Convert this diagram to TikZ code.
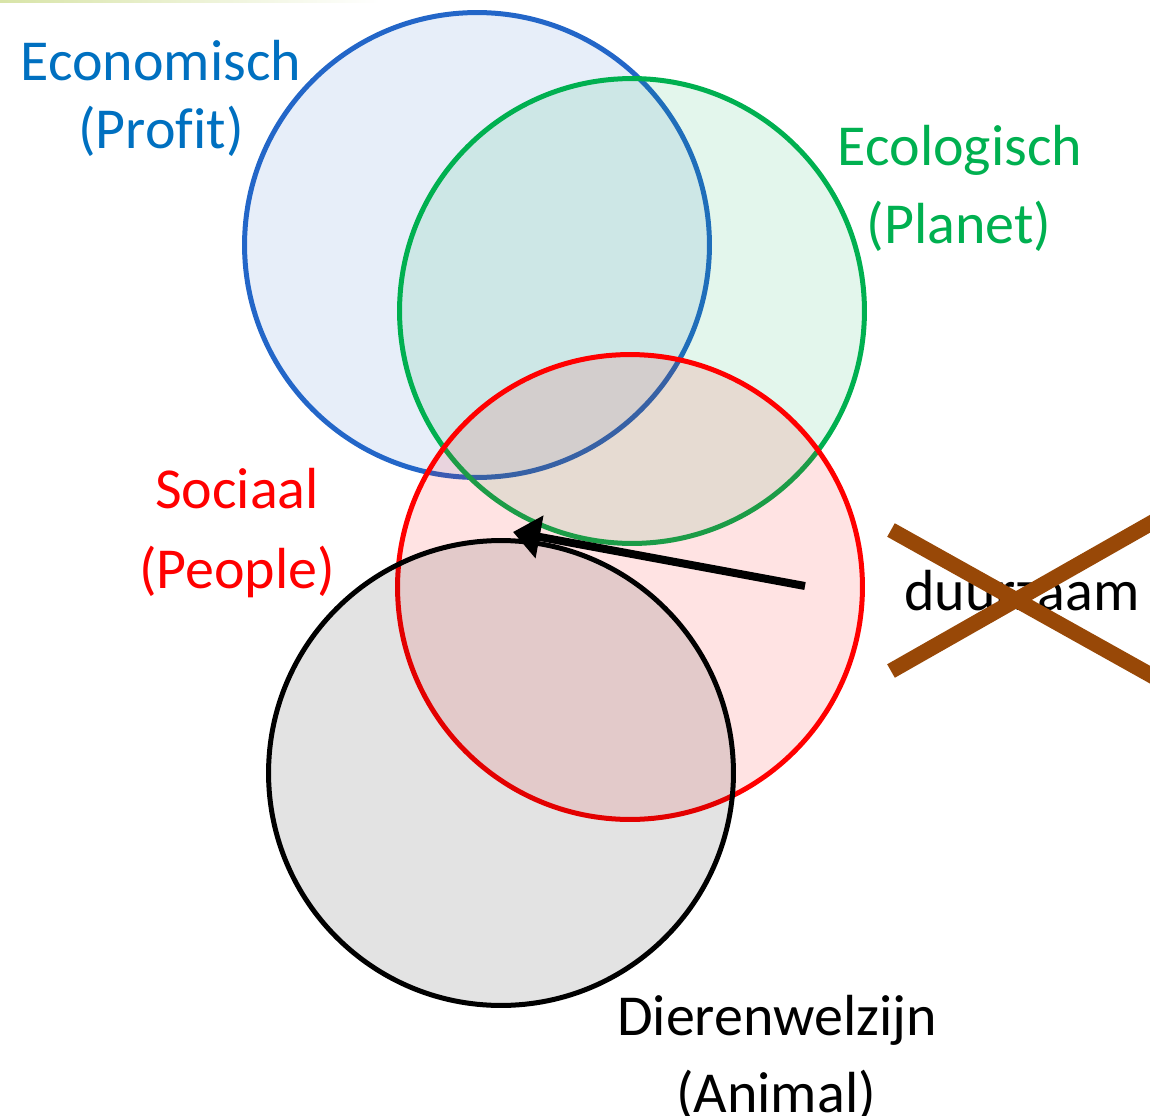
\documentclass[tikz,border=0pt]{standalone}
\usepackage{fontspec}
\setmainfont[Ligatures=NoCommon]{Carlito}
\usepackage{tikz}
\usetikzlibrary{arrows.meta,positioning}
\definecolor{ecoblue}{HTML}{2366C8}
\definecolor{ecotext}{HTML}{0070C0}
\definecolor{planetgreen}{HTML}{00B050}
\definecolor{crossbrown}{HTML}{984807}
\definecolor{topline}{HTML}{D8E4A8}
\tikzset{
    pillar/.style={
    circle,minimum size=9.3cm,inner sep=0pt,line width=0.1cm,fill opacity=0.11
    },
    tag/.style={
    anchor=base,inner sep=0pt,font=\fontsize{33}{40}\selectfont
    },
    pointer/.style={
    line width=0.16cm,-{Triangle[length=0.54cm,width=0.84cm]}
    },
    strike/.style={
    line width=0.31cm,draw=crossbrown
    },
}
\begin{document}
\begin{tikzpicture}[x=0.02cm,y=-0.02cm]
   \useasboundingbox (0,0) rectangle (1150,1116);
   \clip (0,0) rectangle (1150,1116);
   \shade[left color=topline,right color=white] (0,0) rectangle (380,2);

   \node[pillar,draw=ecoblue,fill=ecoblue] (PROFIT) at (477,245) {};
   \node[pillar,draw=planetgreen,fill=planetgreen] (PLANET) at (632,311) {};
   \node[pillar,draw=red,fill=red] (PEOPLE) at (630,587) {};
   \node[pillar,draw=black,fill=black] (ANIMAL) at (501,773) {};

   \node[tag,text=ecotext] (ECO) at (161,80) {Economisch};
   \node[tag,text=ecotext] (ECOsub) at (161,148) {(Profit)};
   \node[tag,text=planetgreen] (ECOL) at (960,165) {Ecologisch};
   \node[tag,text=planetgreen] (ECOLsub) at (959,243) {(Planet)};
   \node[tag,text=red] (SOC) at (237,508) {Sociaal};
   \node[tag,text=red] (SOCsub) at (237,588) {(People)};
   \node[tag] (DIER) at (777,1035) {Dierenwelzijn};
   \node[tag] (DIERsub) at (776,1112) {(Animal)};
   \node[tag] (DUUR) at (1022,610) {duurzaam};

   \coordinate (from) at (805,586);
   \coordinate (to) at (513,532);
   \draw[pointer] (from) -- (to);

   \coordinate (xa) at (891,530);
   \coordinate (xb) at (1190,697);
   \coordinate (xc) at (891,671);
   \coordinate (xd) at (1190,501);
   \draw[strike] (xa) -- (xb);
   \draw[strike] (xc) -- (xd);
\end{tikzpicture}
\end{document}
